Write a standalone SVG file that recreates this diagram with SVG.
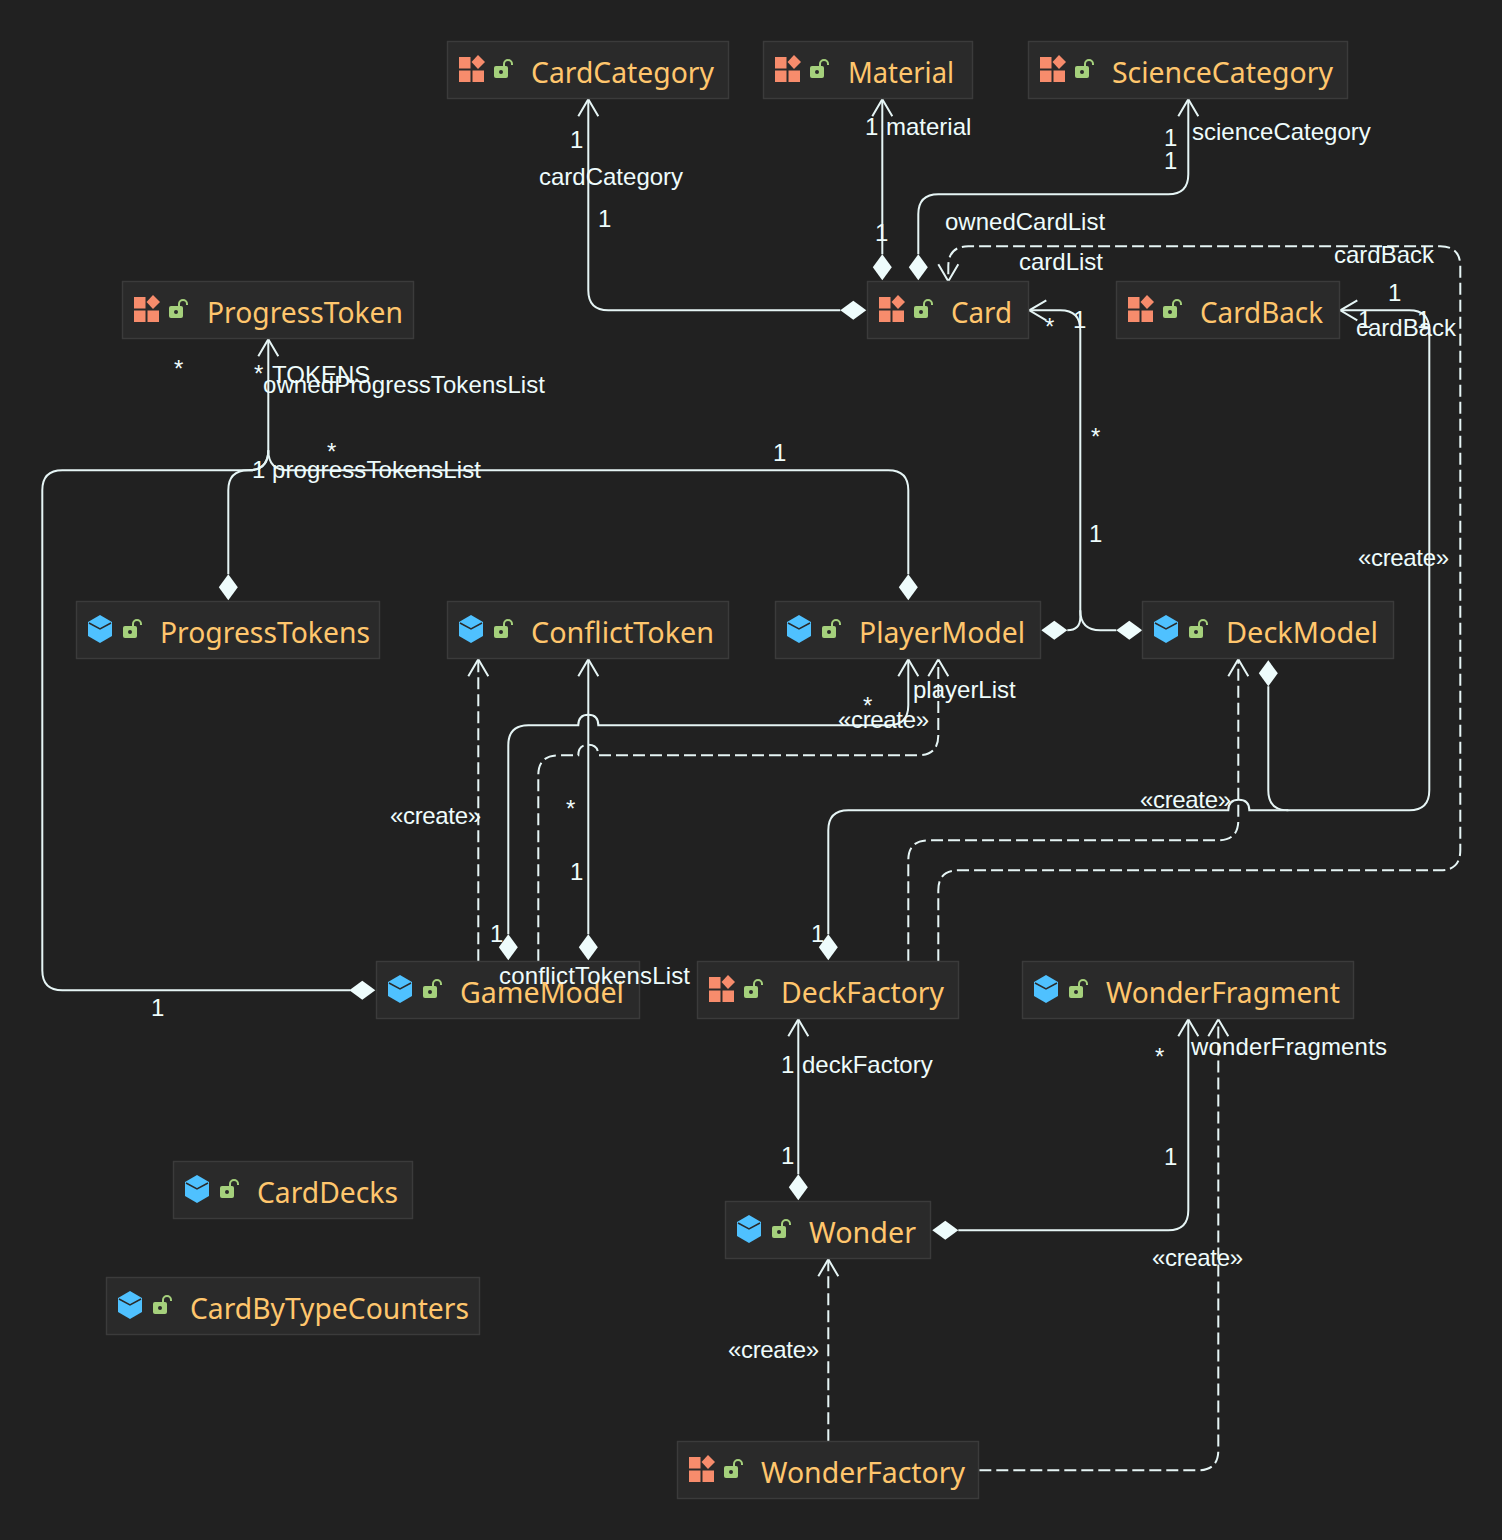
<svg xmlns="http://www.w3.org/2000/svg" width="1502" height="1540" viewBox="0 0 1502 1540">
<style>
.n{fill:#2a2a2a;stroke:#3b3b3b;stroke-width:1.5}
.t{font:28.2px "Noto Sans","Open Sans",sans-serif;fill:#ffc66d}
.l{font:24px "Liberation Sans",Arial,sans-serif;fill:#eefcfc}
.e{fill:none;stroke:#e6f5f5;stroke-width:2}
.d{stroke-dasharray:12 5}
.a{fill:none;stroke:#e6f5f5;stroke-width:2}
.f{fill:#eefcfc}
</style>
<defs>
<g id="cls"><rect x="0" y="1" width="11.5" height="11.5" fill="#f78c6c"/><rect x="0" y="14.5" width="11.5" height="11.5" fill="#f78c6c"/><rect x="13.5" y="14.5" width="11.5" height="11.5" fill="#f78c6c"/><path d="M19 -1 L26 6 L19 13 L12.5 6Z" fill="#f78c6c"/></g>
<g id="cube"><path d="M12 0 L24 7 V21 L12 28 L0 21 V7Z" fill="#4fc1ff"/><path d="M1 8 L12 14 L23 8" fill="none" stroke="#2a2a2a" stroke-width="1.5"/><path d="M5 7.5 L12 3.5 L19 7.5 L12 11.5Z" fill="#4fc1ff"/></g>
<g id="lock"><path d="M10 8 V5 a4 4 0 0 1 8 0 V6" fill="none" stroke="#a5d07c" stroke-width="2"/><rect x="0" y="7" width="14" height="12" rx="2" fill="#a5d07c"/><circle cx="7" cy="13" r="2" fill="#2a2a2a"/></g>
<path id="dia" d="M0 -13 L9.5 0 L0 13 L-9.5 0Z" class="f"/>
<path id="dih" d="M-13 0 L0 -9.5 L13 0 L0 9.5Z" class="f"/>
<path id="au" d="M-10 17 L0 0 L10 17" class="a"/>
<path id="al" d="M17 -10 L0 0 L17 10" class="a"/>
<path id="ad" d="M-10 -17 L0 0 L10 -17" class="a"/>
</defs>
<rect width="1502" height="1540" fill="#212121"/>
<g id="connectors" transform="translate(0.3,0.3)">
<path class="e" d="M840 310 H608 Q588 310 588 290 V99"/><use href="#au" x="588" y="99"/><use href="#dih" x="853" y="310"/>
<path class="e" d="M882 254 V99"/><use href="#au" x="882" y="99"/><use href="#dia" x="882" y="267"/>
<path class="e" d="M918 254 V214 Q918 194 938 194 H1168 Q1188 194 1188 174 V99"/><use href="#au" x="1188" y="99"/><use href="#dia" x="918" y="267"/>
<path class="e d" d="M938 961 V890 Q938 870 958 870 H1440 Q1460 870 1460 850 V266 Q1460 246 1440 246 H968 Q948 246 948 266 V281"/><use href="#ad" x="948" y="281"/>
<path class="e" d="M1268 686 V790 Q1268 810 1288 810 H1409 Q1429 810 1429 790 V330 Q1429 310 1409 310 H1340"/><use href="#al" x="1340" y="310"/><use href="#dia" x="1268" y="673"/>
<path class="e" d="M828 934 V830 Q828 810 848 810 H1228 Q1228 799.5 1238.5 799.5 Q1249 799.5 1249 810 H1288"/><use href="#dia" x="828" y="947"/>
<path class="e" d="M1067 630 Q1080 630 1080 617 V330 Q1080 310 1060 310 H1029"/><use href="#al" x="1029" y="310"/><use href="#dih" x="1054" y="630"/>
<path class="e" d="M1116 630 H1100 Q1080 630 1080 610"/><use href="#dih" x="1129" y="630"/>
<path class="e" d="M350 990 H62 Q42 990 42 970 V490 Q42 470 62 470 H248 Q268 470 268 450 V339"/><use href="#au" x="268" y="339"/><use href="#dih" x="362" y="990"/>
<path class="e" d="M228 574 V490 Q228 470 248 470 Q268 470 268 450"/><use href="#dia" x="228" y="587"/>
<path class="e" d="M908 574 V490 Q908 470 888 470 H288 Q268 470 268 450"/><use href="#dia" x="908" y="587"/>
<path class="e" d="M508 934 V745 Q508 725 528 725 H578 Q578 714.5 588 714.5 Q598 714.5 598 725 H888 Q908 725 908 705 V659"/><use href="#au" x="908" y="659"/><use href="#dia" x="508" y="947"/>
<path class="e d" d="M538 961 V775 Q538 755 558 755 H578 Q578 744.5 588 744.5 Q598 744.5 598 755 H918 Q938 755 938 735 V659"/><use href="#au" x="938" y="659"/>
<path class="e d" d="M478 961 V659"/><use href="#au" x="478" y="659"/>
<path class="e" d="M588 934 V659"/><use href="#au" x="588" y="659"/><use href="#dia" x="588" y="947"/>
<path class="e d" d="M908 961 V860 Q908 840 928 840 H1218 Q1238 840 1238 820 V659"/><use href="#au" x="1238" y="659"/>
<path class="e" d="M798 1174 V1019"/><use href="#au" x="798" y="1019"/><use href="#dia" x="798" y="1187"/>
<path class="e" d="M958 1230 H1168 Q1188 1230 1188 1210 V1019"/><use href="#au" x="1188" y="1019"/><use href="#dih" x="945" y="1230"/>
<path class="e d" d="M979 1470 H1198 Q1218 1470 1218 1450 V1019"/><use href="#au" x="1218" y="1019"/>
<path class="e d" d="M828 1441 V1259"/><use href="#au" x="828" y="1259"/>
</g>
<g id="CardCategory"><rect class="n" x="447.5" y="41.5" width="281" height="57"/><use href="#cls" x="459" y="56"/><use href="#lock" x="494" y="59"/><text class="t" x="531" y="83" textLength="183" lengthAdjust="spacingAndGlyphs">CardCategory</text></g>
<g id="Material"><rect class="n" x="763.5" y="41.5" width="209" height="57"/><use href="#cls" x="775" y="56"/><use href="#lock" x="810" y="59"/><text class="t" x="848" y="83" textLength="106" lengthAdjust="spacingAndGlyphs">Material</text></g>
<g id="ScienceCategory"><rect class="n" x="1028.5" y="41.5" width="319" height="57"/><use href="#cls" x="1040" y="56"/><use href="#lock" x="1075" y="59"/><text class="t" x="1112" y="83" textLength="221" lengthAdjust="spacingAndGlyphs">ScienceCategory</text></g>
<g id="ProgressToken"><rect class="n" x="122.5" y="281.5" width="291" height="57"/><use href="#cls" x="134" y="296"/><use href="#lock" x="169" y="299"/><text class="t" x="207" y="323" textLength="196" lengthAdjust="spacingAndGlyphs">ProgressToken</text></g>
<g id="Card"><rect class="n" x="867.5" y="281.5" width="161" height="57"/><use href="#cls" x="879" y="296"/><use href="#lock" x="914" y="299"/><text class="t" x="951" y="323" textLength="61" lengthAdjust="spacingAndGlyphs">Card</text></g>
<g id="CardBack"><rect class="n" x="1116.5" y="281.5" width="223" height="57"/><use href="#cls" x="1128" y="296"/><use href="#lock" x="1163" y="299"/><text class="t" x="1200" y="323" textLength="123" lengthAdjust="spacingAndGlyphs">CardBack</text></g>
<g id="ProgressTokens"><rect class="n" x="76.5" y="601.5" width="303" height="57"/><use href="#cube" x="88" y="615"/><use href="#lock" x="123" y="619"/><text class="t" x="160" y="643" textLength="210" lengthAdjust="spacingAndGlyphs">ProgressTokens</text></g>
<g id="ConflictToken"><rect class="n" x="447.5" y="601.5" width="281" height="57"/><use href="#cube" x="459" y="615"/><use href="#lock" x="494" y="619"/><text class="t" x="531" y="643" textLength="183" lengthAdjust="spacingAndGlyphs">ConflictToken</text></g>
<g id="PlayerModel"><rect class="n" x="775.5" y="601.5" width="265" height="57"/><use href="#cube" x="787" y="615"/><use href="#lock" x="822" y="619"/><text class="t" x="859" y="643" textLength="166" lengthAdjust="spacingAndGlyphs">PlayerModel</text></g>
<g id="DeckModel"><rect class="n" x="1142.5" y="601.5" width="251" height="57"/><use href="#cube" x="1154" y="615"/><use href="#lock" x="1189" y="619"/><text class="t" x="1226" y="643" textLength="152" lengthAdjust="spacingAndGlyphs">DeckModel</text></g>
<g id="GameModel"><rect class="n" x="376.5" y="961.5" width="263" height="57"/><use href="#cube" x="388" y="975"/><use href="#lock" x="423" y="979"/><text class="t" x="460" y="1003" textLength="164" lengthAdjust="spacingAndGlyphs">GameModel</text></g>
<g id="DeckFactory"><rect class="n" x="697.5" y="961.5" width="261" height="57"/><use href="#cls" x="709" y="976"/><use href="#lock" x="744" y="979"/><text class="t" x="781" y="1003" textLength="163" lengthAdjust="spacingAndGlyphs">DeckFactory</text></g>
<g id="WonderFragment"><rect class="n" x="1022.5" y="961.5" width="331" height="57"/><use href="#cube" x="1034" y="975"/><use href="#lock" x="1069" y="979"/><text class="t" x="1106" y="1003" textLength="234" lengthAdjust="spacingAndGlyphs">WonderFragment</text></g>
<g id="CardDecks"><rect class="n" x="173.5" y="1161.5" width="239" height="57"/><use href="#cube" x="185" y="1175"/><use href="#lock" x="220" y="1179"/><text class="t" x="257" y="1203" textLength="141" lengthAdjust="spacingAndGlyphs">CardDecks</text></g>
<g id="CardByTypeCounters"><rect class="n" x="106.5" y="1277.5" width="373" height="57"/><use href="#cube" x="118" y="1291"/><use href="#lock" x="153" y="1295"/><text class="t" x="190" y="1319" textLength="279" lengthAdjust="spacingAndGlyphs">CardByTypeCounters</text></g>
<g id="Wonder"><rect class="n" x="725.5" y="1201.5" width="205" height="57"/><use href="#cube" x="737" y="1215"/><use href="#lock" x="772" y="1219"/><text class="t" x="809" y="1243" textLength="107" lengthAdjust="spacingAndGlyphs">Wonder</text></g>
<g id="WonderFactory"><rect class="n" x="677.5" y="1441.5" width="301" height="57"/><use href="#cls" x="689" y="1456"/><use href="#lock" x="724" y="1459"/><text class="t" x="761" y="1483" textLength="204" lengthAdjust="spacingAndGlyphs">WonderFactory</text></g>
<g id="labels">
<text class="l" x="570" y="148">1</text>
<text class="l" x="539" y="185">cardCategory</text>
<text class="l" x="598" y="227">1</text>
<text class="l" x="865" y="135">1</text>
<text class="l" x="886" y="135">material</text>
<text class="l" x="875" y="241">1</text>
<text class="l" x="1164" y="146">1</text>
<text class="l" x="1192" y="140">scienceCategory</text>
<text class="l" x="1164" y="169">1</text>
<text class="l" x="945" y="230">ownedCardList</text>
<text class="l" x="1019" y="270">cardList</text>
<text class="l" x="1334" y="263">cardBack</text>
<text class="l" x="1388" y="301">1</text>
<text class="l" x="1356" y="336">cardBack</text>
<text class="l" x="1358" y="328">1</text>
<text class="l" x="1417" y="328">1</text>
<text class="l" x="1045" y="335">*</text>
<text class="l" x="1073" y="328">1</text>
<text class="l" x="1091" y="445">*</text>
<text class="l" x="1089" y="542">1</text>
<text class="l" x="1358" y="566" textLength="91">«create»</text>
<text class="l" x="174" y="377">*</text>
<text class="l" x="254" y="382">*</text>
<text class="l" x="272" y="383">TOKENS</text>
<text class="l" x="263" y="393" textLength="282">ownedProgressTokensList</text>
<text class="l" x="327" y="460">*</text>
<text class="l" x="252" y="478">1</text>
<text class="l" x="272" y="478" textLength="209">progressTokensList</text>
<text class="l" x="773" y="461">1</text>
<text class="l" x="913" y="698">playerList</text>
<text class="l" x="863" y="714">*</text>
<text class="l" x="838" y="728" textLength="91">«create»</text>
<text class="l" x="390" y="824" textLength="91">«create»</text>
<text class="l" x="566" y="817">*</text>
<text class="l" x="570" y="880">1</text>
<text class="l" x="1140" y="808" textLength="91">«create»</text>
<text class="l" x="490" y="942">1</text>
<text class="l" x="811" y="942">1</text>
<text class="l" x="499" y="984" textLength="191">conflictTokensList</text>
<text class="l" x="151" y="1016">1</text>
<text class="l" x="781" y="1073">1</text>
<text class="l" x="802" y="1073">deckFactory</text>
<text class="l" x="781" y="1164">1</text>
<text class="l" x="1155" y="1065">*</text>
<text class="l" x="1191" y="1055" textLength="196">wonderFragments</text>
<text class="l" x="1164" y="1165">1</text>
<text class="l" x="1152" y="1266" textLength="91">«create»</text>
<text class="l" x="728" y="1358" textLength="91">«create»</text>
</g>
</svg>
